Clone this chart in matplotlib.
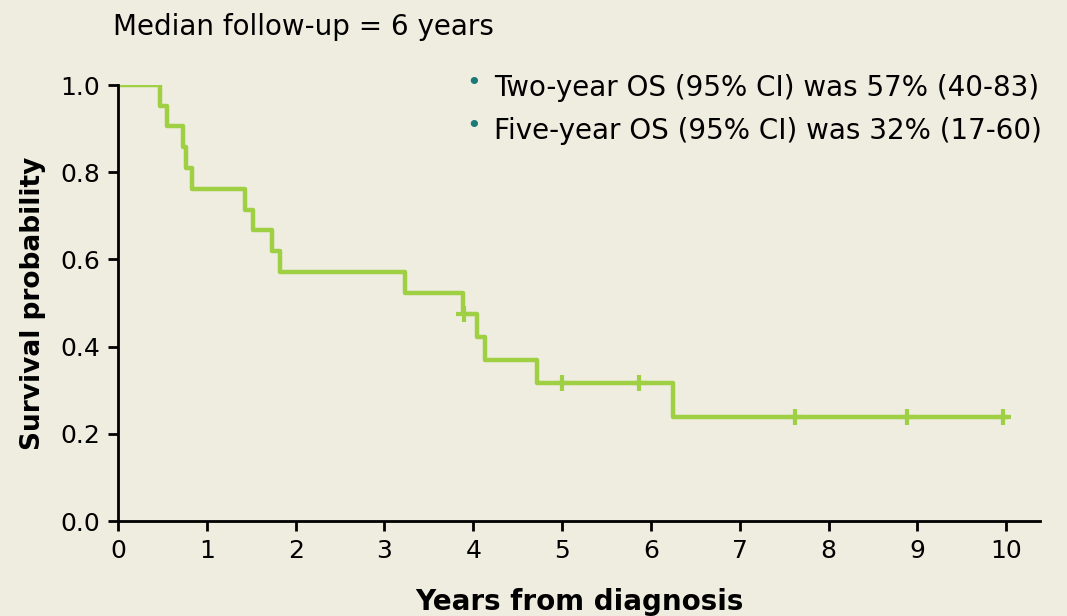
import matplotlib
matplotlib.use('Agg')
import matplotlib.pyplot as plt

# Kaplan-Meier step values
times = [0, 0.47, 0.55, 0.73, 0.76, 0.83, 1.43, 1.52, 1.73, 1.82, 3.23, 3.88, 4.04, 4.13, 4.72, 6.25, 10.0]
surv = [1.0, 0.952, 0.905, 0.857, 0.810, 0.762, 0.714, 0.667, 0.619, 0.571, 0.524, 0.476, 0.423, 0.370, 0.317, 0.238, 0.238]
cens_t = [3.90, 5.0, 5.87, 7.62, 8.88, 9.97]
cens_s = [0.476, 0.317, 0.317, 0.238, 0.238, 0.238]

notes = ['Two-year OS (95% CI) was 57% (40-83)',
         'Five-year OS (95% CI) was 32% (17-60)']
xticks = list(range(0, 11))
yticks = [0.0, 0.2, 0.4, 0.6, 0.8, 1.0]

bg = '#efece0'
green = '#9fd043'

fig = plt.figure(figsize=(10.67, 6.16), dpi=100, facecolor=bg)
ax = fig.add_axes([0.1106, 0.154, 0.864, 0.708], facecolor=bg)

ax.step(times, surv, where='post', color=green, lw=3.2)
ax.plot(cens_t, cens_s, ls='none', marker='+', ms=12, mew=3, color=green)

ax.set_xlim(0, 10.38)
ax.set_ylim(0, 1.0)
ax.set_xticks(xticks)
ax.set_yticks(yticks)
ax.set_yticklabels(['%.1f' % v for v in yticks])
for s in ['top', 'right']:
    ax.spines[s].set_visible(False)
for s in ['left', 'bottom']:
    ax.spines[s].set_linewidth(2)
ax.tick_params(direction='out', length=7, width=2, labelsize=18, pad=6)

ax.set_xlabel('Years from diagnosis', fontsize=20, fontweight='bold', labelpad=18)
ax.set_ylabel('Survival probability', fontsize=19, fontweight='bold', labelpad=10)

fig.text(113 / 1067, 1 - 27 / 616, 'Median follow-up = 6 years', fontsize=20, va='center', ha='left')

for i, txt in enumerate(notes):
    yy = 1 - (88 + 43 * i) / 616
    fig.text(474 / 1067, yy + 0.008, '\u2022', color='#1b7a78', fontsize=18, va='center', ha='center')
    fig.text(494 / 1067, yy, txt, fontsize=20, va='center', ha='left')

fig.savefig('out.png', dpi=100, facecolor=bg)
